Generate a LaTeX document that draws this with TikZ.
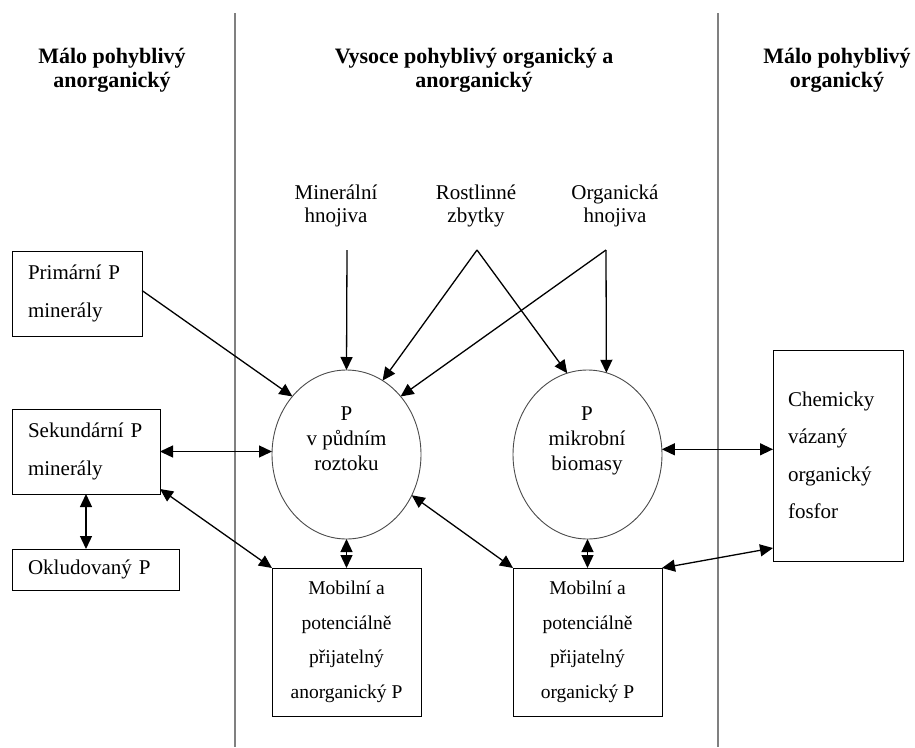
\documentclass[tikz,border=0pt]{standalone}
\usepackage{fontspec}
\setmainfont{Liberation Serif}
\usetikzlibrary{arrows.meta,shapes.geometric,calc}
\begin{document}
\begin{tikzpicture}[x=1pt,y=-1pt,
 every node/.style={inner sep=0pt, outer sep=0pt},
 ttl/.style={font=\bfseries\fontsize{22}{24.5}\selectfont, align=center, anchor=base},
 src/.style={font=\fontsize{21}{23}\selectfont, align=center, anchor=base},
 ctx/.style={font=\fontsize{21}{25}\selectfont, align=center, anchor=base},
 lbox/.style={draw, line width=1pt, align=left, inner xsep=16pt, font=\fontsize{21}{38}\selectfont},
 mbox/.style={draw, line width=1pt, align=center, minimum width=149pt, minimum height=148pt, font=\fontsize{19.5}{34.5}\selectfont},
 pool/.style={ellipse, draw=black!70, line width=0.9pt, minimum width=149pt, minimum height=169pt},
 arr/.style={line width=1.3pt, -{Triangle[length=13pt,width=12pt]}},
 darr/.style={line width=1.3pt, {Triangle[length=13pt,width=12pt]}-{Triangle[length=13pt,width=12pt]}},
 divider/.style={draw=black!50, line width=1.8pt}]

\useasboundingbox (0,0) rectangle (915,747);
\fill[white] (0,0) rectangle (915,747);

% dividers
\coordinate (d1t) at (235,13); \coordinate (d1b) at (235,747);
\coordinate (d2t) at (718,13); \coordinate (d2b) at (718,747);
\draw[divider] (d1t) -- (d1b);
\draw[divider] (d2t) -- (d2b);

% titles (anchor = baseline of last line)
\node[ttl] (t1) at (112,87.5) {Málo pohyblivý\\anorganický};
\node[ttl] (t2) at (474,87.5) {Vysoce pohyblivý organický a\\anorganický};
\node[ttl] (t3) at (837,87.5) {Málo pohyblivý\\organický};

% sources
\node[src] (min) at (336,222) {Minerální\\hnojiva};
\node[src] (ros) at (476,222) {Rostlinné\\zbytky};
\node[src] (org) at (615,222) {Organická\\hnojiva};
\coordinate (mapex) at (347,250);
\coordinate (rapex) at (477,250);
\coordinate (oapex) at (606,250);

% pools
\node[pool] (c1) at (346.5,454.5) {};
\node[pool] (c2) at (587.5,454.5) {};
\node[ctx] (c1t) at (346.5,470) {P\\v půdním\\roztoku};
\node[ctx] (c2t) at (587,470) {P\\mikrobní\\biomasy};

% left boxes
\node[lbox, text width=98pt, minimum height=85pt] (prim) at (77,293.5) {Primární P\\minerály};
\node[lbox, text width=116pt, minimum height=85pt] (sek) at (86,451.5) {Sekundární P\\minerály};
\node[lbox, text width=135pt, minimum height=41pt] (okl) at (95.5,569.5) {Okludovaný P};

% bottom boxes
\node[mbox] (m1) at (346.5,642) {Mobilní a\\potenciálně\\přijatelný\\anorganický P};
\node[mbox] (m2) at (587.5,642) {Mobilní a\\potenciálně\\přijatelný\\organický P};

% right box
\node[lbox, inner xsep=15pt, text width=100pt, minimum height=211pt, font=\fontsize{21}{37.5}\selectfont] (chem) at (838,455.5) {Chemicky\\vázaný\\organický\\fosfor};

% arrows
\draw[arr] (mapex) -- (c1.north);
\draw[arr] (rapex) -- (c1.64);
\draw[arr] (rapex) -- (c2.104);
\draw[arr] (oapex) -- (c1.47);
\draw[arr] (oapex) -- (c2.77);
\draw[arr] ([yshift=3pt]prim.east) -- (c1.133);
\draw[darr] (sek.east) -- (sek.east -| c1.west);
\draw[darr] ([yshift=5pt]sek.south east) -- (m1.north west);
\draw[darr] (sek.south) -- (sek.south |- okl.north);
\draw[darr] (c1.south) -- (m1.north);
\draw[darr] (c2.south) -- (m2.north);
\draw[darr] (c1.-32) -- (m2.north west);
\draw[darr] (c2.4) -- (c2.4 -| chem.west);
\draw[darr] (m2.north east) -- ([yshift=13pt]chem.south west);
\end{tikzpicture}
\end{document}
